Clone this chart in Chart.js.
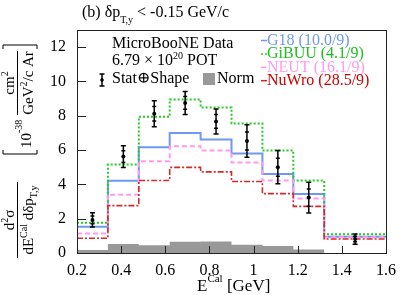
<!DOCTYPE html>
<html>
<head>
<meta charset="utf-8">
<script src="https://cdn.jsdelivr.net/npm/chart.js@4.4.1/dist/chart.umd.min.js"></script>
<style>
html, body { margin: 0; padding: 0; background: #ffffff; }
canvas { display: block; }
</style>
</head>
<body>
<canvas id="xsecChart" width="407" height="295"></canvas>
<script>
const binEdges = [0.2, 0.34, 0.48, 0.62, 0.76, 0.9, 1.04, 1.18, 1.32, 1.6];
const binCenters = [0.27, 0.41, 0.55, 0.69, 0.83, 0.97, 1.11, 1.25, 1.46];
const dataXsec = [1.93, 5.62, 8.12, 8.75, 7.67, 6.53, 5.0, 3.23, 0.81];
const dataErr = [0.41, 0.63, 0.76, 0.67, 0.73, 0.95, 0.97, 0.9, 0.3];
const dataStatErr = [0.22, 0.34, 0.42, 0.37, 0.4, 0.52, 0.53, 0.5, 0.16];
const g18 = [1.53, 4.21, 6.16, 7.0, 6.61, 5.8, 4.6, 3.44, 0.95];
const gibuu = [1.76, 5.16, 7.94, 8.95, 8.48, 7.55, 5.97, 4.23, 1.1];
const neut = [1.14, 3.4, 5.35, 6.22, 5.97, 5.27, 4.23, 3.17, 0.92];
const nuwro = [0.86, 2.76, 4.23, 4.99, 4.73, 4.17, 3.46, 2.72, 0.82];
const normUnc = [0.17, 0.52, 0.45, 0.65, 0.67, 0.48, 0.41, 0.21, 0];
const xTicks = [0.2, 0.4, 0.6, 0.8, 1, 1.2, 1.4, 1.6];
const yTicks = [0, 2, 4, 6, 8, 10, 12];
const genLabels = ['G18 (10.0/9)', 'GiBUU (4.1/9)', 'NEUT (16.1/9)', 'NuWro (28.5/9)'];

const SERIF = "'Liberation Serif', 'DejaVu Serif', serif";
const genStyles = [
{ line: '#6f98f2', text: '#6f98f2', dash: [], width: 2 },
{ line: '#22cc22', text: '#1cbf1c', dash: [2, 2], width: 2 },
{ line: '#ff99f2', text: '#ff99f2', dash: [5, 3], width: 2 },
{ line: '#d42a2a', text: '#cc0000', dash: [6, 2, 2, 2], width: 1.6 }
];

function histPoints(vals) {
const pts = vals.map(function(v, i) { return { x: binEdges[i], y: v }; });
pts.push({ x: binEdges[binEdges.length - 1], y: vals[vals.length - 1] });
return pts;
}

function runsWidth(ctx, runs) {
let w = 0;
runs.forEach(function(r) { ctx.font = r[1] + 'px ' + SERIF; w += ctx.measureText(r[0]).width; });
return w;
}

function drawRuns(ctx, x, y, runs) {
runs.forEach(function(r) {
ctx.font = r[1] + 'px ' + SERIF;
ctx.fillText(r[0], x, y + (r[2] || 0));
x += ctx.measureText(r[0]).width;
});
return x;
}

function drawErrorBar(ctx, x, yC, yLo, yHi, ySLo, ySHi) {
ctx.beginPath();
ctx.moveTo(x, yHi); ctx.lineTo(x, yLo);
ctx.moveTo(x - 2.5, yHi); ctx.lineTo(x + 2.5, yHi);
ctx.moveTo(x - 2.5, yLo); ctx.lineTo(x + 2.5, yLo);
if (ySLo != null) {
ctx.moveTo(x - 2, ySHi); ctx.lineTo(x + 2, ySHi);
ctx.moveTo(x - 2, ySLo); ctx.lineTo(x + 2, ySLo);
}
ctx.stroke();
}

function drawYTitle(ctx) {
ctx.save();
ctx.translate(0, 258);
ctx.rotate(-Math.PI / 2);
ctx.fillStyle = '#000';
ctx.strokeStyle = '#000';
ctx.lineWidth = 1;
const num1 = [['d', 15], ['2', 10, -6], ['σ', 15]];
drawRuns(ctx, 38 - runsWidth(ctx, num1) / 2, 14, num1);
ctx.fillRect(0, 17, 76, 1);
const den1 = [['dE', 15], ['Cal', 10, -6], [' dδp', 15], ['T,y', 10, 4]];
drawRuns(ctx, 38 - runsWidth(ctx, den1) / 2, 33, den1);
ctx.beginPath();
ctx.moveTo(108, 3); ctx.lineTo(104, 3); ctx.lineTo(104, 37); ctx.lineTo(108, 37);
ctx.moveTo(209, 3); ctx.lineTo(213, 3); ctx.lineTo(213, 37); ctx.lineTo(209, 37);
ctx.stroke();
drawRuns(ctx, 110, 31, [['10', 15], ['-38', 10, -9]]);
const num2 = [['cm', 15], ['2', 10, -6]];
drawRuns(ctx, 175 - runsWidth(ctx, num2) / 2, 14, num2);
ctx.fillRect(143, 17, 64, 1);
const den2 = [['GeV', 15], ['2', 10, -6], ['/c Ar', 15]];
drawRuns(ctx, 175 - runsWidth(ctx, den2) / 2, 33, den2);
ctx.restore();
}

const decorPlugin = {
id: 'decor',
afterDatasetsDraw: function(chart) {
const ctx = chart.ctx, xs = chart.scales.x, ys = chart.scales.y;
ctx.save();
ctx.strokeStyle = '#000';
ctx.lineWidth = 1.5;
binCenters.forEach(function(c, i) {
const x = xs.getPixelForValue(c);
drawErrorBar(ctx, x, ys.getPixelForValue(dataXsec[i]),
ys.getPixelForValue(dataXsec[i] - dataErr[i]), ys.getPixelForValue(dataXsec[i] + dataErr[i]),
ys.getPixelForValue(dataXsec[i] - dataStatErr[i]), ys.getPixelForValue(dataXsec[i] + dataStatErr[i]));
});
ctx.restore();
},
afterDraw: function(chart) {
const ctx = chart.ctx, xs = chart.scales.x, ys = chart.scales.y, a = chart.chartArea;
ctx.save();
ctx.strokeStyle = '#222';
ctx.lineWidth = 1;
ctx.strokeRect(a.left + 0.5, a.top + 0.5, a.right - a.left, a.bottom - a.top);
ctx.beginPath();
yTicks.forEach(function(v) {
const y = Math.round(ys.getPixelForValue(v)) + 0.5;
ctx.moveTo(a.left, y); ctx.lineTo(a.left + 9, y);
});
xTicks.forEach(function(v) {
const x = Math.round(xs.getPixelForValue(v)) + 0.5;
ctx.moveTo(x, a.bottom); ctx.lineTo(x, a.bottom - 7);
});
ctx.stroke();

ctx.fillStyle = '#000';
ctx.textAlign = 'left';
ctx.textBaseline = 'alphabetic';
drawRuns(ctx, 82, 17, [['(b) δp', 16], ['T,y', 10, 6], [' < -0.15 GeV/c', 16]]);
drawRuns(ctx, 197, 291, [['E', 17], ['Cal', 11, -9], [' [GeV]', 17]]);
drawYTitle(ctx);

drawRuns(ctx, 112, 48, [['MicroBooNE Data', 16]]);
drawRuns(ctx, 112, 65, [['6.79 × 10', 16], ['20', 10, -6], [' POT', 16]]);
drawRuns(ctx, 112, 83, [['Stat⊕Shape', 16]]);
ctx.strokeStyle = '#000';
ctx.lineWidth = 1.5;
drawErrorBar(ctx, 102, 80, 86, 74, null, null);
ctx.beginPath(); ctx.arc(102, 80, 1.8, 0, Math.PI * 2); ctx.fill();
ctx.fillStyle = '#999999';
ctx.fillRect(203, 73, 12, 12);
ctx.fillStyle = '#000';
drawRuns(ctx, 217, 83, [['Norm', 16]]);

genLabels.forEach(function(lab, i) {
const st = genStyles[i];
const base = 45 + i * 13.4;
ctx.strokeStyle = st.line;
ctx.lineWidth = 1.5;
ctx.setLineDash(st.dash);
ctx.beginPath(); ctx.moveTo(261, base - 4.5); ctx.lineTo(267, base - 4.5); ctx.stroke();
ctx.setLineDash([]);
ctx.fillStyle = st.text;
drawRuns(ctx, 267, base, [[lab, 16]]);
});
ctx.restore();
}
};

function buildDatasets() {
const sets = [];
sets.push({ label: 'Data', data: binCenters.map(function(c, i) { return { x: c, y: dataXsec[i] }; }),
showLine: false, pointRadius: 2, pointBackgroundColor: '#000', pointBorderWidth: 0, order: 0 });
[g18, gibuu, neut, nuwro].forEach(function(vals, i) {
const st = genStyles[i];
sets.push({ label: genLabels[i], data: histPoints(vals), stepped: true, borderColor: st.line,
borderWidth: st.width, borderDash: st.dash, pointRadius: 0, fill: false, order: 4 - i });
});
sets.push({ label: 'Norm', data: histPoints(normUnc), stepped: true, borderWidth: 0, borderColor: 'rgba(0,0,0,0)',
backgroundColor: '#999999', fill: 'origin', pointRadius: 0, order: 9 });
return sets;
}

function initChart() {
const ctx = document.getElementById('xsecChart').getContext('2d');
window.xsecChart = new Chart(ctx, {
type: 'line',
data: { datasets: buildDatasets() },
options: {
responsive: false, animation: false, devicePixelRatio: 1,
layout: { padding: { left: 0, top: 30, right: 21, bottom: 0 } },
plugins: { legend: { display: false }, tooltip: { enabled: false } },
scales: {
x: { type: 'linear', min: 0.2, max: 1.6,
afterFit: function(s) { s.height = 42; },
afterBuildTicks: function(s) { s.ticks = xTicks.map(function(v) { return { value: v }; }); },
grid: { display: false }, border: { display: false },
ticks: { padding: 0, color: '#000', font: { family: SERIF, size: 16 }, maxRotation: 0,
callback: function(v) { return String(Math.round(v * 10) / 10); } } },
y: { type: 'linear', min: 0, max: 13,
afterFit: function(s) { s.width = 77; },
afterBuildTicks: function(s) { s.ticks = yTicks.map(function(v) { return { value: v }; }); },
grid: { display: false }, border: { display: false },
ticks: { padding: 3, color: '#000', font: { family: SERIF, size: 16 } } }
}
},
plugins: [decorPlugin]
});
}

document.addEventListener('DOMContentLoaded', function() {
initChart();
});
</script>
</body>
</html>
